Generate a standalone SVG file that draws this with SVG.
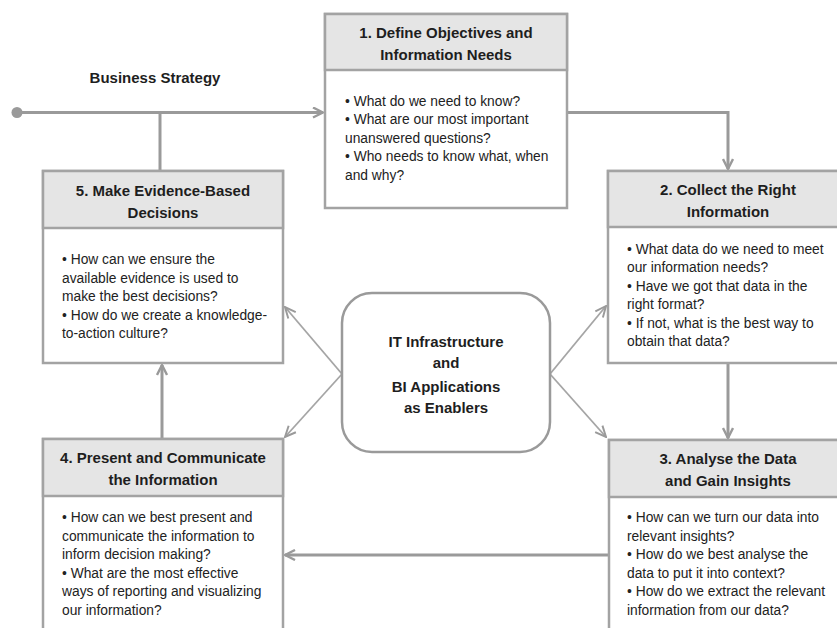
<svg xmlns="http://www.w3.org/2000/svg" width="837" height="628" viewBox="0 0 837 628">
  <defs>
    <marker id="arrowBig" viewBox="0 0 12 12" refX="11" refY="6" markerWidth="12" markerHeight="12" markerUnits="userSpaceOnUse" orient="auto">
      <path d="M1,1 L11,6 L1,11" fill="none" stroke="#9a9a9a" stroke-width="2.4" stroke-linejoin="miter"/>
    </marker>
    <marker id="arrowThin" viewBox="0 0 12 12" refX="11" refY="6" markerWidth="13" markerHeight="13" markerUnits="userSpaceOnUse" orient="auto">
      <path d="M1,1.5 L11,6 L1,10.5" fill="none" stroke="#9a9a9a" stroke-width="1.8"/>
    </marker>
  </defs>
  <style>
    .box { fill: #ffffff; stroke: #a3a3a3; stroke-width: 2.5; }
    .head { fill: #e5e5e5; stroke: #a3a3a3; stroke-width: 2.5; }
    .title { font-family: "Liberation Sans", Arial, sans-serif; font-weight: bold; font-size: 15px; fill: #1e1e1e; text-anchor: middle; }
    .body { font-family: "Liberation Sans", Arial, sans-serif; font-size: 13.8px; fill: #222222; }
    .flow { fill: none; stroke: #9a9a9a; stroke-width: 3; }
    .spoke { fill: none; stroke: #a5a5a5; stroke-width: 1.8; }
  </style>
  <rect width="837" height="628" fill="#ffffff"/>

  <!-- connectors -->
  <g id="connectors">
    <circle cx="17" cy="112.5" r="5.5" fill="#9a9a9a"/>
    <line class="flow" x1="17" y1="112.5" x2="323" y2="112.5" marker-end="url(#arrowBig)"/>
    <line class="flow" x1="160" y1="112.5" x2="160" y2="171"/>
    <polyline class="flow" points="567,112.5 728,112.5 728,169" marker-end="url(#arrowBig)"/>
    <line class="flow" x1="728" y1="363" x2="728" y2="438" marker-end="url(#arrowBig)"/>
    <line class="flow" x1="609" y1="555" x2="285" y2="555" marker-end="url(#arrowBig)"/>
    <line class="flow" x1="162" y1="439" x2="162" y2="365" marker-end="url(#arrowBig)"/>
    <line class="spoke" x1="342" y1="374" x2="285" y2="307" marker-end="url(#arrowThin)"/>
    <line class="spoke" x1="342" y1="374" x2="285" y2="437" marker-end="url(#arrowThin)"/>
    <line class="spoke" x1="550" y1="374" x2="606" y2="306" marker-end="url(#arrowThin)"/>
    <line class="spoke" x1="550" y1="374" x2="606" y2="437" marker-end="url(#arrowThin)"/>
  </g>

  <text class="title" x="155" y="83">Business Strategy</text>

  <!-- 1. Define objectives -->
  <g id="node1">
    <rect class="box" x="325" y="14" width="242" height="194"/>
    <rect class="head" x="325" y="14" width="242" height="56"/>
    <text class="title" x="446" y="38">1. Define Objectives and</text>
    <text class="title" x="446" y="60">Information Needs</text>
    <text class="body" x="345" y="106">• What do we need to know?</text>
    <text class="body" x="345" y="124">• What are our most important</text>
    <text class="body" x="345" y="142.5">unanswered questions?</text>
    <text class="body" x="345" y="161">• Who needs to know what, when</text>
    <text class="body" x="345" y="179.5">and why?</text>
  </g>

  <!-- 2. Collect the right information -->
  <g id="node2">
    <rect class="box" x="608" y="171" width="240" height="192"/>
    <rect class="head" x="608" y="171" width="240" height="56"/>
    <text class="title" x="728" y="195">2. Collect the Right</text>
    <text class="title" x="728" y="217">Information</text>
    <text class="body" x="627" y="253.5">• What data do we need to meet</text>
    <text class="body" x="627" y="272">our information needs?</text>
    <text class="body" x="627" y="290.5">• Have we got that data in the</text>
    <text class="body" x="627" y="309">right format?</text>
    <text class="body" x="627" y="327.5">• If not, what is the best way to</text>
    <text class="body" x="627" y="346">obtain that data?</text>
  </g>

  <!-- 3. Analyse the data -->
  <g id="node3">
    <rect class="box" x="609" y="440" width="240" height="200"/>
    <rect class="head" x="609" y="440" width="240" height="57"/>
    <text class="title" x="728" y="464">3. Analyse the Data</text>
    <text class="title" x="728" y="486">and Gain Insights</text>
    <text class="body" x="627" y="522">• How can we turn our data into</text>
    <text class="body" x="627" y="540.5">relevant insights?</text>
    <text class="body" x="627" y="559">• How do we best analyse the</text>
    <text class="body" x="627" y="577.5">data to put it into context?</text>
    <text class="body" x="627" y="596">• How do we extract the relevant</text>
    <text class="body" x="627" y="614.5">information from our data?</text>
  </g>

  <!-- 4. Present and communicate -->
  <g id="node4">
    <rect class="box" x="43" y="439" width="240" height="200"/>
    <rect class="head" x="43" y="439" width="240" height="57"/>
    <text class="title" x="163" y="463">4. Present and Communicate</text>
    <text class="title" x="163" y="485">the Information</text>
    <text class="body" x="62" y="522">• How can we best present and</text>
    <text class="body" x="62" y="540.5">communicate the information to</text>
    <text class="body" x="62" y="559">inform decision making?</text>
    <text class="body" x="62" y="577.5">• What are the most effective</text>
    <text class="body" x="62" y="596">ways of reporting and visualizing</text>
    <text class="body" x="62" y="614.5">our information?</text>
  </g>

  <!-- 5. Make evidence-based decisions -->
  <g id="node5">
    <rect class="box" x="43" y="171" width="240" height="192"/>
    <rect class="head" x="43" y="171" width="240" height="57"/>
    <text class="title" x="163" y="196">5. Make Evidence-Based</text>
    <text class="title" x="163" y="218">Decisions</text>
    <text class="body" x="62" y="264">• How can we ensure the</text>
    <text class="body" x="62" y="282.5">available evidence is used to</text>
    <text class="body" x="62" y="301">make the best decisions?</text>
    <text class="body" x="62" y="319.5">• How do we create a knowledge-</text>
    <text class="body" x="62" y="338">to-action culture?</text>
  </g>

  <!-- central enabler -->
  <g id="enablers">
    <rect x="342" y="293" width="208" height="159" rx="30" ry="30" fill="#ffffff" stroke="#9a9a9a" stroke-width="2.5"/>
    <text class="title" x="446" y="347">IT Infrastructure</text>
    <text class="title" x="446" y="368">and</text>
    <text class="title" x="446" y="392">BI Applications</text>
    <text class="title" x="446" y="413">as Enablers</text>
  </g>
</svg>
